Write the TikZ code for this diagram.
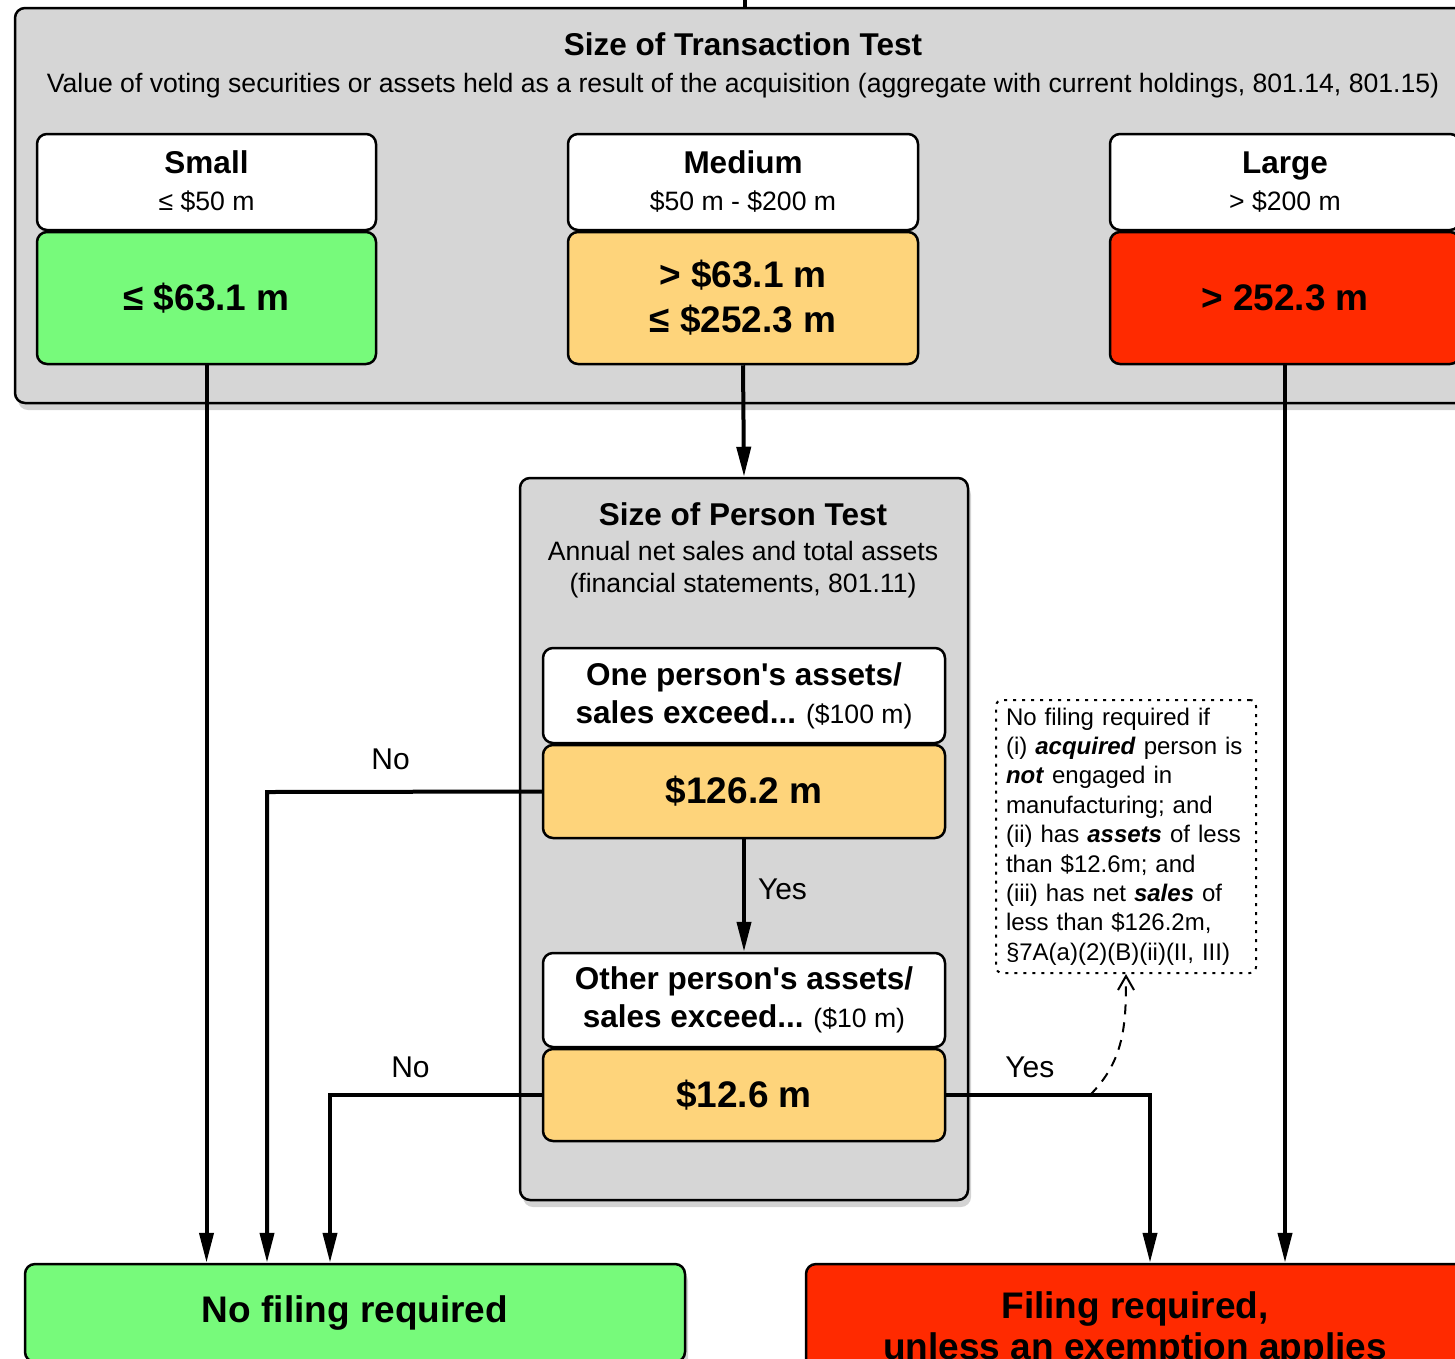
\documentclass[tikz,border=0pt]{standalone}
\usepackage{fontspec}
\setmainfont{Liberation Sans}
\usepackage{xcolor}
\usepackage{tikz}
\usetikzlibrary{arrows.meta, positioning, shadows}

\definecolor{panelgrey}{HTML}{D6D6D6}
\definecolor{lowgreen}{HTML}{77FA7B}
\definecolor{midorange}{HTML}{FED47B}
\definecolor{highred}{HTML}{FF2A00}

\newcommand{\headfont}{\fontsize{31.5}{38}\selectfont\bfseries}
\newcommand{\subfont}{\fontsize{26.6}{32}\selectfont}
\newcommand{\bigfont}{\fontsize{37}{45}\selectfont\bfseries}
\newcommand{\notefont}{\fontsize{24}{29.4}\selectfont}
\newcommand{\bi}[1]{\textbf{\textit{#1}}}

\begin{document}
\begin{tikzpicture}[
    x=1pt, y=-1pt,
    flow/.style={line width=4pt, -{Triangle[length=30pt, width=14pt]}},
    panel/.style={rectangle, rounded corners=10pt, draw, line width=2.5pt, fill=panelgrey,
        drop shadow={opacity=0.35, shadow xshift=3pt, shadow yshift=-7pt}},
    outcome/.style={panel, align=center, font=\bigfont},
    headbox/.style={rectangle, rounded corners=10pt, draw, line width=2.5pt, fill=white, align=center,
        font=\fontsize{26.6}{37}\selectfont},
    valbox/.style={headbox, font=\bigfont},
    notebox/.style={rectangle, rounded corners=6pt, draw, line width=2pt, dash pattern=on 3pt off 6pt,
        fill=white, align=left, font=\notefont, text width=240pt, inner xsep=10pt},
    edge label/.style={font=\fontsize{30}{36}\selectfont, inner sep=2pt}
]
\clip (0,0) rectangle (1455,1358);

% Nodes
\node[panel, minimum width=1460pt, minimum height=395pt] (trans) at (745,205.5) {};
\node[align=center, font=\fontsize{26.6}{37}\selectfont] (transtitle) at (743,65.5)
    {{\headfont Size of Transaction Test}\\
     {\subfont Value of voting securities or assets held as a result of the acquisition (aggregate with current holdings, 801.14, 801.15)}};

\node[headbox, minimum width=339pt, minimum height=96pt] (smallhead) at (206.5,182)
    {{\headfont Small}\\{\subfont ≤ \$50 m}};
\node[valbox, minimum width=339pt, minimum height=132pt, fill=lowgreen] (smallval) at (206.5,298) {≤ \$63.1 m};

\node[headbox, minimum width=350pt, minimum height=96pt] (midhead) at (743,182)
    {{\headfont Medium}\\{\subfont \$50 m - \$200 m}};
\node[valbox, minimum width=350pt, minimum height=132pt, fill=midorange] (midval) at (743,298)
    {> \$63.1 m\\≤ \$252.3 m};

\node[headbox, minimum width=350pt, minimum height=96pt] (largehead) at (1285,182)
    {{\headfont Large}\\{\subfont > \$200 m}};
\node[valbox, minimum width=350pt, minimum height=132pt, fill=highred] (largeval) at (1285,298) {> 252.3 m};

\node[panel, minimum width=448pt, minimum height=722pt] (person) at (744,839) {};
\node[align=center, font=\fontsize{26.6}{32}\selectfont] (persontitle) at (743,550)
    {{\headfont Size of Person Test}\\[3pt]
     {\subfont Annual net sales and total assets}\\
     {\subfont (financial statements, 801.11)}};

\node[headbox, minimum width=402pt, minimum height=95pt, font=\fontsize{26.6}{38}\selectfont] (onehead) at (744,695.5)
    {{\headfont One person\textquotesingle s assets/}\\{\headfont sales exceed...} {\subfont (\$100 m)}};
\node[valbox, minimum width=402pt, minimum height=93pt, fill=midorange] (oneval) at (744,791.5) {\$126.2 m};

\node[headbox, minimum width=402pt, minimum height=94pt, font=\fontsize{26.6}{38}\selectfont] (otherhead) at (744,1000)
    {{\headfont Other person\textquotesingle s assets/}\\{\headfont sales exceed...} {\subfont (\$10 m)}};
\node[valbox, minimum width=402pt, minimum height=92pt, fill=midorange] (otherval) at (744,1095) {\$12.6 m};

\node[notebox, minimum height=273pt] (note) at (1126,836.5)
    {No filing required if\\
     (i) \bi{acquired} person is\\
     \bi{not} engaged in\\
     manufacturing; and\\
     (ii) has \bi{assets} of less\\
     than \$12.6m; and\\
     (iii) has net \bi{sales} of\\
     less than \$126.2m,\\
     §7A(a)(2)(B)(ii)(II, III)};

\node[outcome, minimum width=660pt, minimum height=98pt, fill=lowgreen] (nofile) at (355,1313) {No filing required};
\node[outcome, minimum width=658pt, minimum height=131pt, fill=highred, font=\fontsize{37}{41}\selectfont\bfseries] (filing) at (1135,1329.5)
    {Filing required,\\unless an exemption applies};

\coordinate (entry) at (745,-20);
\coordinate (nobendone) at (267,792);
\coordinate (nobendtwo) at (330,1095);
\coordinate (yesbend) at (1150,1095);
\coordinate (dashfrom) at (1090,1095);

% Edges
\draw[line width=4pt] (entry) -- (entry |- trans.north);
\draw[flow] (smallval.south) -- (smallval.south |- nofile.north);
\draw[flow] (midval.south) -- (person.north);
\draw[flow] (largeval.south) -- (largeval.south |- filing.north);

\draw[flow] (oneval.west) -- node[pos=0.55, above=18pt, edge label] {No} (nobendone) -- (nobendone |- nofile.north);
\draw[flow] (oneval.south) -- node[midway, right=10pt, yshift=6pt, edge label] {Yes} (otherhead.north);

\draw[flow] (otherval.west) -- node[pos=0.62, above=13pt, edge label] {No} (nobendtwo) -- (nobendtwo |- nofile.north);
\draw[flow] (otherval.east) -- node[pos=0.41, above=13pt, edge label] {Yes} (yesbend) -- (yesbend |- filing.north);

\draw[line width=2pt, dash pattern=on 10pt off 8pt, -{Straight Barb[length=14pt, width=16pt]}]
    (dashfrom) to[out=45, in=-90] (note.south);

\end{tikzpicture}
\end{document}
